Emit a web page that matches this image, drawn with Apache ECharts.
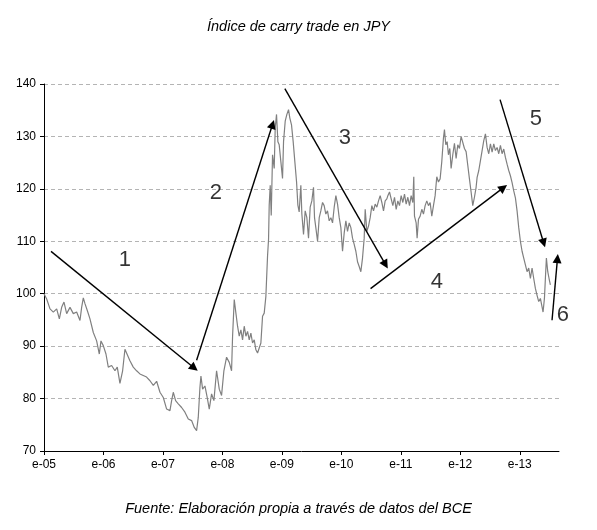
<!DOCTYPE html>
<html>
<head>
<meta charset="utf-8">
<script src="https://cdn.jsdelivr.net/npm/echarts@6/dist/echarts.min.js"></script>
<style>
html,body{margin:0;padding:0;background:#fff;}
#chart{width:597px;height:530px;}
</style>
</head>
<body>
<div id="chart"></div>
<script>
// Time in years since January 2005
const years = [
0,0.045,0.101,0.157,0.213,0.258,0.297,0.336,0.381,0.437,0.493,0.549,0.605,0.633,0.661,0.689,0.728,0.773,0.829,0.885,0.930,0.958,0.997,1.042,1.081,1.137,1.193,1.232,1.277,1.322,1.361,1.389,1.445,1.501,1.557,1.613,1.669,1.725,1.782,1.838,1.894,1.950,2.006,2.062,2.118,2.146,2.174,2.213,2.258,2.314,2.370,2.426,2.482,2.527,2.566,2.594,2.622,2.639,2.667,2.706,2.745,2.779,2.818,2.857,2.902,2.947,2.986,3.025,3.070,3.115,3.154,
3.171,3.199,3.227,3.255,3.283,3.311,3.339,3.367,3.395,3.423,3.451,3.479,3.507,3.535,3.563,3.591,3.619,3.647,3.675,3.703,3.731,3.759,3.776,3.787,3.804,3.821,3.843,3.871,3.888,3.910,3.933,3.955,3.983,4.011,4.028,4.056,4.084,4.112,4.134,4.162,4.190,4.218,4.247,4.269,4.291,4.319,4.336,
4.364,4.392,4.420,4.448,4.476,4.504,4.532,4.549,4.571,4.600,4.628,4.655,4.684,4.711,4.739,4.767,4.796,4.824,4.852,4.880,4.908,4.936,4.964,4.992,5.020,5.048,5.076,5.104,5.132,5.160,5.188,5.216,5.244,5.272,5.300,5.328,5.356,5.384,5.401,5.429,5.457,5.485,5.513,5.541,5.569,5.597,5.625,5.653,5.681,5.709,5.737,5.765,
5.782,5.810,5.838,5.866,5.894,5.922,5.950,5.978,6.006,6.034,6.062,6.090,6.118,6.146,6.174,6.202,6.218,6.230,6.258,6.274,6.297,6.325,6.353,6.381,6.409,6.437,6.465,6.493,6.521,6.549,6.577,6.605,6.633,6.661,6.689,6.717,6.734,6.756,6.779,6.801,6.824,6.846,6.874,6.902,6.930,6.958,6.986,7.014,7.042,7.070,7.098,7.126,7.154,7.182,7.210,7.238,7.266,
7.283,7.311,7.339,7.367,7.395,7.423,7.451,7.479,7.507,7.535,7.563,7.591,7.619,7.647,7.675,7.703,7.731,7.759,7.787,7.815,7.843,7.871,7.899,7.927,7.955,7.983,8.011,8.039,8.067,8.095,8.123,8.151,8.179,8.207,8.235,8.263,8.291,8.319,8.347,8.375,8.392,8.415,8.431,8.448,8.471,8.493,8.515
];
const values = [
100,99,97.1,96.5,97.1,95.2,97.4,98.4,96.2,97.4,96.2,96.5,94.9,97.4,99.2,98.1,96.8,95.2,92.6,91.0,88.5,91.0,90.1,88.5,86.0,86.3,85.3,86.0,82.9,85.3,89.4,89.1,87.2,86.0,85.3,84.7,84.4,84.1,83.4,82.5,83.3,81.2,80.2,78.0,77.7,79.6,81.2,79.6,79.0,78.3,77.4,76.1,75.8,74.5,73.9,76.4,82.1,84.3,81.8,82.4,80.2,78.0,80.9,79.6,85.3,81.8,80.6,85.3,87.9,86.9,85.3,
91.9,98.9,96.3,93.8,91.9,93.1,91.2,93.8,91.9,92.8,91.2,92.5,90.6,91.2,89.3,88.7,89.0,90.6,95.7,96.3,99.5,107.2,110.4,116.9,120.7,114.9,126.5,123.9,131.6,134.2,129.0,128.4,125.2,122.0,129.0,132.9,134.2,135.1,133.5,132.2,129.0,125.2,121.3,116.9,115.6,120.7,115.2,
111.3,115.8,114.5,110.6,116.5,117.7,120.3,114.5,112.6,110.0,114.5,115.8,117.4,116.8,115.2,115.8,113.9,114.5,113.5,116.5,118.7,117.1,114.5,112.6,108.1,111.6,113.9,111.9,113.5,112.6,110.6,109.4,108.1,106.1,105.2,104.2,106.8,110.6,116.1,111.9,112.9,114.5,116.8,115.8,117.1,116.5,117.7,118.7,117.4,115.8,117.7,118.1,
118.7,119.4,118.1,116.8,118.4,116.1,117.7,116.8,118.7,117.4,119.0,117.1,118.4,116.8,118.7,117.4,122.3,114.8,113.5,110.6,114.2,114.8,116.1,115.2,116.8,117.7,116.8,117.4,114.8,116.8,118.7,122.3,121.3,121.9,125.2,129.7,131.3,128.4,129.0,126.5,127.7,123.9,126.5,128.7,125.8,128.4,127.7,130.0,130.2,127.7,127.1,124.5,121.9,119.4,116.8,118.4,120.3,
122.2,123.5,125.4,127.3,129.2,130.5,127.9,126.7,128.6,127.0,128.6,127.3,127.9,126.7,128.3,126.7,127.6,126.0,124.7,123.5,122.5,121.2,119.6,118.3,115.8,112.6,110.0,108.1,106.8,105.5,104.2,104.9,102.9,104.9,102.9,101.0,99.7,98.5,99.1,97.5,96.5,99.1,102.9,106.8,104.2,102.9,101.7
];
const tickYears = [0,1,2,3,4,5,6,7,8];
const tickLabels = ['e-05','e-06','e-07','e-08','e-09','e-10','e-11','e-12','e-13'];

// Annotation arrows (from -> to) in data coordinates
const arrowFrom = [[0.118,108.07],[2.566,87.30],[4.050,139.12],[5.491,100.98],[7.669,137.02],[8.543,94.93]];
const arrowTo   = [[2.526,85.83],[3.844,132.31],[5.743,105.55],[7.726,120.24],[8.403,109.67],[8.634,106.70]];
const phaseLabels = ['1','2','3','4','5','6'];
const phasePos = [[1.361,106.4],[2.891,119.15],[5.059,129.64],[6.605,102.16],[8.269,133.26],[8.723,95.89]];

const titleText = 'Índice de carry trade en JPY';
const footerText = 'Fuente: Elaboración propia a través de datos del BCE';

const FONT = '"Liberation Sans", Arial, sans-serif';
const chart = echarts.init(document.getElementById('chart'), null, {renderer: 'canvas'});

const lineData = years.map((t, i) => [t, values[i]]);
const arrowLines = arrowFrom.map((f, i) => [{coord: f}, {coord: arrowTo[i]}]);
const labelData = phasePos.map((p, i) => ({value: p, name: phaseLabels[i]}));

chart.setOption({
  animation: false,
  backgroundColor: '#fff',
  title: [
    {text: titleText, left: 'center', top: 14,
     textStyle: {fontFamily: FONT, fontStyle: 'italic', fontWeight: 'normal', fontSize: 14.5, color: '#000'}},
    {text: footerText, left: 'center', top: 496,
     textStyle: {fontFamily: FONT, fontStyle: 'italic', fontWeight: 'normal', fontSize: 14.5, color: '#000'}}
  ],
  grid: {left: 44, right: 38, top: 84, bottom: 79, containLabel: false},
  xAxis: {
    type: 'value', min: 0, max: 8.66,
    axisLine: {show: true, lineStyle: {color: '#000', width: 1}},
    axisTick: {show: true, length: 4, customValues: tickYears, lineStyle: {color: '#000'}},
    axisLabel: {customValues: tickYears, formatter: v => tickLabels[Math.round(v)] || '',
      fontFamily: FONT, fontSize: 12, color: '#000', margin: 8},
    splitLine: {show: false}
  },
  yAxis: {
    type: 'value', min: 70, max: 140, interval: 10,
    axisLine: {show: true, lineStyle: {color: '#000', width: 1}},
    axisTick: {show: true, length: 4, lineStyle: {color: '#000'}},
    axisLabel: {fontFamily: FONT, fontSize: 12, color: '#000', margin: 8},
    splitLine: {show: true, lineStyle: {color: '#b4b4b4', type: [4, 3], width: 1}}
  },
  series: [
    {
      type: 'line', data: lineData, showSymbol: false, symbol: 'none',
      lineStyle: {color: '#808080', width: 1.2}, silent: true,
      markLine: {
        silent: true, symbol: ['none', 'triangle'], symbolSize: 9,
        label: {show: false},
        lineStyle: {color: '#000', width: 1.4, type: 'solid'},
        emphasis: {disabled: true},
        data: arrowLines
      }
    },
    {
      type: 'scatter', data: labelData, symbolSize: 1, clip: false, silent: true,
      itemStyle: {color: 'rgba(0,0,0,0)'},
      label: {show: true, position: 'inside', formatter: p => p.name,
        fontFamily: FONT, fontSize: 22, color: '#000'}
    }
  ]
});
</script>
</body>
</html>
